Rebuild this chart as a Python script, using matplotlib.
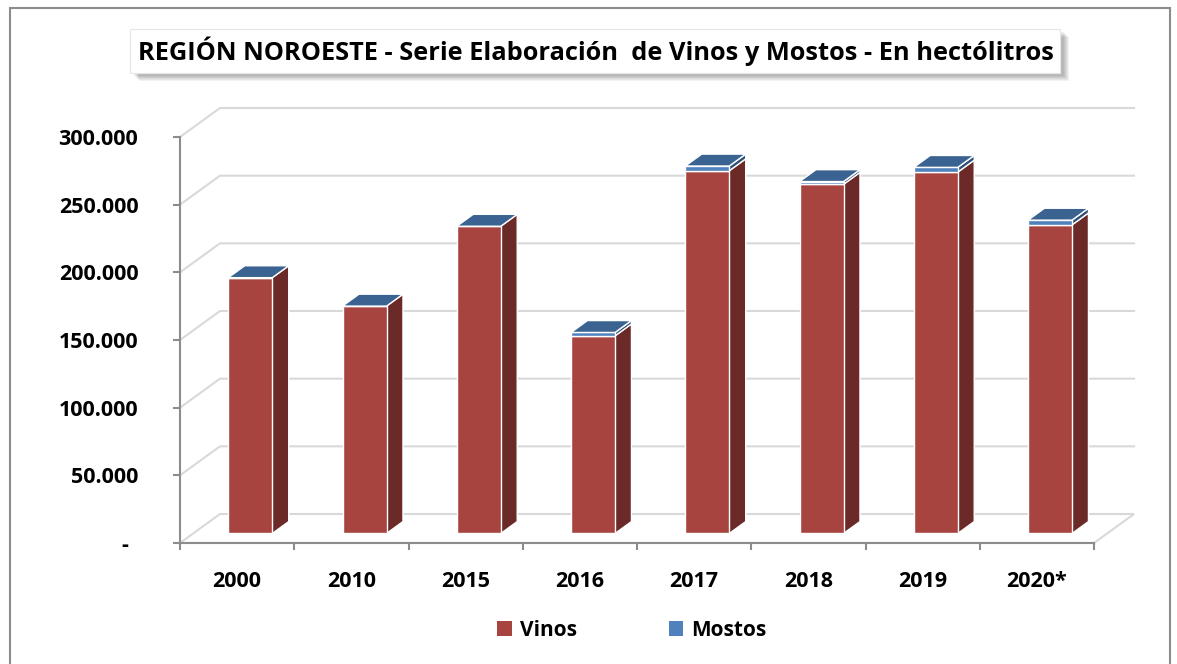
import matplotlib
matplotlib.use("Agg")
import matplotlib.pyplot as plt
import matplotlib.transforms as mtransforms
from matplotlib.patches import Polygon, Rectangle, Patch
import numpy as np

# data (hectolitres)
years = ["2000", "2010", "2015", "2016", "2017", "2018", "2019", "2020*"]
vinos = [189000, 168000, 227000, 146000, 268000, 258000, 267000, 228000]
mostos = [0, 0, 0, 2500, 3500, 2000, 3500, 3500]
ytick_vals = [0, 50000, 100000, 150000, 200000, 250000, 300000]
ytick_labels = ["-", "50.000", "100.000", "150.000", "200.000", "250.000", "300.000"]

RED, RED_SIDE = "#A8443F", "#6B2A28"
BLUE, BLUE_TOP, BLUE_SIDE = "#4F81BD", "#3A6391", "#2E4F78"
GRID = "#D9D9D9"
AXC = "#8C8C8C"
FONT = ["Open Sans", "DejaVu Sans"]

W, H = 1177, 664
fig = plt.figure(figsize=(W / 100, H / 100), dpi=100)
fig.patch.set_facecolor("white")
ax = fig.add_axes([180 / W, 1 - 543 / H, 914 / W, 406 / H])
ax.set_xlim(0, len(years))
ax.set_ylim(0, 300000)
ax.patch.set_visible(False)

DEPTH = np.array([40.0, 29.0])   # pixel offset front -> back wall
T0, T1 = 0.33, 0.74              # bar front / back depth
BW = 0.385
IDT = mtransforms.IdentityTransform()


def P(x, y, t):
    return ax.transData.transform((x, y)) + DEPTH * t


def face(pts, color, z, ec="white", lw=1.0):
    ax.add_patch(Polygon(pts, closed=True, facecolor=color, edgecolor=ec,
                         lw=lw, transform=IDT, clip_on=False, zorder=z))


n = len(years)
# floor
face([P(0, 0, 0), P(n, 0, 0), P(n, 0, 1), P(0, 0, 1)], "white", 1, ec=GRID, lw=1.5)

# back wall + side wall gridlines
for v in ytick_vals[1:]:
    a, b, c = P(0, v, 0), P(0, v, 1), P(n, v, 1)
    ax.plot([a[0], b[0], c[0]], [a[1], b[1], c[1]], color=GRID, lw=1.5,
            transform=IDT, clip_on=False, zorder=0.5)

# bars: fronts through ax.bar, shifted into depth
x = np.arange(n) + 0.5
shift = ax.transData + mtransforms.Affine2D().translate(*(DEPTH * T0))
tops = np.array(vinos) + np.array(mostos)
ax.bar(x, vinos, width=BW, color=RED, edgecolor="white", lw=1.0,
       transform=shift, clip_on=False, zorder=3)
ax.bar(x, mostos, bottom=vinos, width=BW, color=BLUE, edgecolor="white",
       lw=1.0, transform=shift, clip_on=False, zorder=3)

for i in range(n):
    x0, x1 = x[i] - BW / 2, x[i] + BW / 2
    for y0, y1, col in [(0, vinos[i], RED_SIDE), (vinos[i], tops[i], BLUE_SIDE)]:
        if y1 > y0:
            face([P(x1, y0, T0), P(x1, y0, T1), P(x1, y1, T1), P(x1, y1, T0)], col, 2.5)
    face([P(x0, tops[i], T0), P(x1, tops[i], T0), P(x1, tops[i], T1),
          P(x0, tops[i], T1)], BLUE_TOP, 3.5)

# axes lines / ticks
for s in ["top", "right"]:
    ax.spines[s].set_visible(False)
for s in ["left", "bottom"]:
    ax.spines[s].set_color(AXC)
    ax.spines[s].set_linewidth(1.5)
ax.set_yticks(ytick_vals)
ax.set_yticklabels(ytick_labels, fontfamily=FONT, fontweight="bold", fontsize=15.5)
ax.tick_params(axis="y", length=5, width=1.5, color=AXC, pad=25)
ax.set_xticks(x)
ax.set_xticklabels(years, fontfamily=FONT, fontweight="bold", fontsize=15.5)
ax.set_xticks(np.arange(n + 1), minor=True)
ax.tick_params(axis="x", which="major", length=0, pad=20)
ax.tick_params(axis="x", which="minor", length=5, width=1.5, color=AXC)
lab0 = ax.get_yticklabels()[0]
lab0.set_transform(lab0.get_transform() + mtransforms.Affine2D().translate(-10, 0))

# title box with soft shadow
for k in range(6):
    fig.patches.append(Rectangle((132 + 2 + k, 664 - 76 - k), 930, 44,
                                 transform=IDT, facecolor="black",
                                 alpha=0.05, lw=0, zorder=1))
fig.patches.append(Rectangle((130, 664 - 73), 930, 44, transform=IDT,
                             facecolor="white", edgecolor="#E6E6E6", lw=0.8, zorder=2))
fig.text(596 / W, 1 - 51 / H,
         "REGIÓN NOROESTE - Serie Elaboración  de Vinos y Mostos - En hectólitros",
         ha="center", va="center", fontfamily=FONT, fontweight="bold",
         fontsize=18.3, zorder=3)

# legend
handles = [Patch(facecolor=RED, label="Vinos"), Patch(facecolor=BLUE, label="Mostos")]
fig.legend(handles=handles, loc="center", bbox_to_anchor=(632 / W, 1 - 630 / H),
           ncol=2, frameon=False, handlelength=0.7, handleheight=0.7,
           handletextpad=0.4, columnspacing=4.4,
           prop={"family": FONT, "weight": "bold", "size": 15})

# outer chart border
fig.patches.append(Rectangle((10, -5), 1160, 664 - 8 + 5, transform=IDT,
                             facecolor="none", edgecolor=AXC, lw=1.5, zorder=0))

fig.savefig("out.png", dpi=100)
